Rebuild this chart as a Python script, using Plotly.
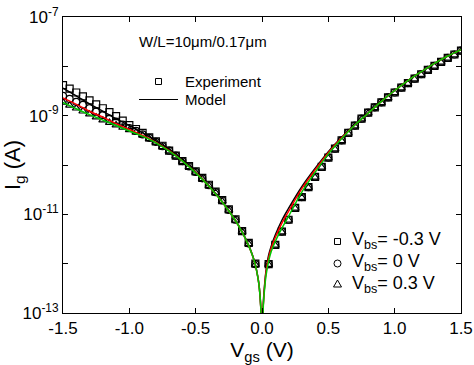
import plotly.graph_objects as go

# Gate voltage grid of measured points (V)
vgs_exp = [-1.5, -1.45, -1.4, -1.35, -1.3, -1.25, -1.2, -1.15, -1.1, -1.05,
           -1.0, -0.95, -0.9, -0.85, -0.8, -0.75, -0.7, -0.65, -0.6, -0.55,
           -0.5, -0.45, -0.4, -0.35, -0.3, -0.25, -0.2, -0.15, -0.1, -0.05,
           0.05, 0.1, 0.15, 0.2, 0.25, 0.3, 0.35, 0.4, 0.45, 0.5,
           0.55, 0.6, 0.65, 0.7, 0.75, 0.8, 0.85, 0.9, 0.95, 1.0,
           1.05, 1.1, 1.15, 1.2, 1.25, 1.3, 1.35, 1.4, 1.45, 1.5]

# log10(Ig [A]) experiment, Vbs = -0.3 V (squares)
log_ig_m03 = [-8.38, -8.45, -8.53, -8.61, -8.69, -8.77, -8.85, -8.93, -9.01, -9.10,
              -9.19, -9.27, -9.35, -9.44, -9.52, -9.61, -9.71, -9.81, -9.92, -10.02,
              -10.13, -10.26, -10.40, -10.54, -10.71, -10.90, -11.10, -11.34, -11.58, -12.00,
              -12.01, -11.62, -11.35, -11.11, -10.87, -10.65, -10.45, -10.24, -10.04, -9.85,
              -9.67, -9.50, -9.35, -9.20, -9.06, -8.94, -8.83, -8.73, -8.63, -8.53,
              -8.43, -8.34, -8.25, -8.16, -8.07, -7.99, -7.91, -7.83, -7.76, -7.68]
# Vbs = 0 V (circles)
log_ig_0 = [-8.60, -8.66, -8.72, -8.78, -8.85, -8.92, -8.99, -9.06, -9.12, -9.18,
            -9.25, -9.31, -9.38, -9.45, -9.53, -9.62, -9.71, -9.81, -9.92, -10.03,
            -10.14, -10.27, -10.41, -10.55, -10.72, -10.91, -11.11, -11.34, -11.59, -12.01,
            -12.01, -11.62, -11.35, -11.11, -10.87, -10.65, -10.45, -10.24, -10.04, -9.85,
            -9.67, -9.50, -9.35, -9.20, -9.06, -8.94, -8.83, -8.73, -8.63, -8.53,
            -8.43, -8.34, -8.25, -8.16, -8.07, -7.99, -7.91, -7.83, -7.76, -7.68]
# Vbs = 0.3 V (triangles)
log_ig_p03 = [-8.73, -8.79, -8.85, -8.91, -8.97, -9.03, -9.09, -9.14, -9.19, -9.24,
              -9.29, -9.34, -9.40, -9.47, -9.54, -9.63, -9.72, -9.82, -9.93, -10.04,
              -10.15, -10.28, -10.42, -10.56, -10.73, -10.92, -11.12, -11.35, -11.60, -12.02,
              -12.02, -11.63, -11.36, -11.12, -10.88, -10.66, -10.46, -10.25, -10.05, -9.86,
              -9.68, -9.51, -9.36, -9.21, -9.07, -8.95, -8.84, -8.74, -8.64, -8.54,
              -8.44, -8.35, -8.26, -8.17, -8.08, -8.00, -7.92, -7.84, -7.77, -7.69]

# Model curves
vgs_model = [-1.5, -1.4, -1.3, -1.2, -1.1, -1.0, -0.9, -0.8, -0.7, -0.6,
             -0.5, -0.4, -0.3, -0.2, -0.15, -0.1, -0.07, -0.05, -0.03, -0.02,
             -0.01, 0.0, 0.01, 0.02, 0.03, 0.05, 0.07, 0.1, 0.15, 0.2,
             0.3, 0.4, 0.5, 0.6, 0.7, 0.8, 0.9, 1.0, 1.1, 1.2,
             1.3, 1.4, 1.5]
log_model_m03 = [-8.44, -8.60, -8.76, -8.91, -9.06, -9.20, -9.35, -9.51, -9.69, -9.90,
                 -10.14, -10.42, -10.74, -11.12, -11.35, -11.63, -11.84, -12.02, -12.29, -12.49,
                 -12.84, -14.0, -12.80, -12.42, -12.15, -11.83, -11.64, -11.42, -11.12, -10.88,
                 -10.44, -10.07, -9.73, -9.44, -9.18, -8.94, -8.71, -8.49, -8.29, -8.11,
                 -7.94, -7.79, -7.66]
log_model_0 = [-8.64, -8.77, -8.91, -9.03, -9.16, -9.28, -9.40, -9.54, -9.71, -9.92,
               -10.15, -10.43, -10.75, -11.13, -11.36, -11.64, -11.85, -12.03, -12.30, -12.50,
               -12.85, -14.0, -12.82, -12.45, -12.18, -11.88, -11.68, -11.47, -11.18, -10.94,
               -10.48, -10.10, -9.75, -9.45, -9.19, -8.95, -8.71, -8.49, -8.29, -8.11,
               -7.94, -7.79, -7.66]
log_model_p03 = [-8.73, -8.86, -8.98, -9.09, -9.20, -9.31, -9.42, -9.55, -9.72, -9.92,
                 -10.16, -10.43, -10.75, -11.13, -11.36, -11.64, -11.85, -12.03, -12.30, -12.50,
                 -12.85, -14.0, -12.85, -12.50, -12.25, -11.95, -11.75, -11.55, -11.28, -11.04,
                 -10.55, -10.15, -9.78, -9.47, -9.19, -8.95, -8.71, -8.49, -8.29, -8.11,
                 -7.94, -7.79, -7.66]

FONT = "Liberation Sans, Arial, sans-serif"

fig = go.Figure()

for logs, sym in [(log_ig_m03, "square-open"), (log_ig_0, "circle-open"), (log_ig_p03, "triangle-up-open")]:
    fig.add_trace(go.Scatter(
        x=vgs_exp, y=[10 ** v for v in logs], mode="markers",
        marker=dict(symbol=sym, size=7, color="black", line=dict(width=1.2, color="black")),
        showlegend=False, cliponaxis=True))

for logs, col in [(log_model_m03, "black"), (log_model_0, "#FF0000"), (log_model_p03, "#00C800")]:
    fig.add_trace(go.Scatter(
        x=vgs_model, y=[10 ** v for v in logs], mode="lines", line_shape="spline",
        line=dict(color=col, width=1.5), showlegend=False))

ytick_vals = [1e-13, 1e-12, 1e-11, 1e-10, 1e-9, 1e-8, 1e-7]
ytick_text = ["10<sup>-13</sup>", "", "10<sup>-11</sup>", "", "10<sup>-9</sup>", "", "10<sup>-7</sup>"]
xtick_vals = [-1.5, -1.0, -0.5, 0.0, 0.5, 1.0, 1.5]
xtick_text = ["-1.5", "-1.0", "-0.5", "0.0", "0.5", "1.0", "1.5"]

fig.update_layout(
    width=474, height=365,
    margin=dict(l=63, r=13, t=17, b=52),
    paper_bgcolor="white", plot_bgcolor="white",
    font=dict(family=FONT, size=17, color="black"),
    xaxis=dict(range=[-1.5, 1.5], tickvals=xtick_vals, ticktext=xtick_text, automargin=False,
               ticks="inside", ticklen=5, tickcolor="black", mirror="ticks",
               showline=True, linecolor="black", linewidth=1, showgrid=False, zeroline=False,
               title=dict(text="V<sub>gs</sub> (V)", font=dict(size=21), standoff=4),
               tickfont=dict(size=17)),
    yaxis=dict(type="log", range=[-13, -7], tickvals=ytick_vals, ticktext=ytick_text, automargin=False,
               ticks="inside", ticklen=5, tickcolor="black", mirror="ticks",
               showline=True, linecolor="black", linewidth=1, showgrid=False, zeroline=False,
               title=dict(text="I<sub>g</sub> (A)", font=dict(size=22), standoff=1),
               tickfont=dict(size=17)),
)

def px(x):
    return (x - 63) / 398.0

def py(y):
    return (313 - y) / 296.0

annots = [
    ("W/L=10\u03bcm/0.17\u03bcm", 137, 42, 15),
    ("Experiment", 183, 81, 15),
    ("Model", 183, 100, 15),
    ("V<sub>bs</sub>= -0.3 V", 350, 240, 18),
    ("V<sub>bs</sub>= 0 V", 350, 262, 18),
    ("V<sub>bs</sub>= 0.3 V", 350, 284, 18),
]
for txt, x, y, s in annots:
    fig.add_annotation(text=txt, xref="paper", yref="paper", x=px(x), y=py(y),
                       xanchor="left", yanchor="middle", showarrow=False,
                       font=dict(family=FONT, size=s, color="black"))

shapes = []
# legend symbols
for (cx, cy) in [(158.5, 81.5), (337.5, 241.5)]:
    shapes.append(dict(type="rect", xref="paper", yref="paper", xsizemode="pixel", ysizemode="pixel",
                       xanchor=px(cx), yanchor=py(cy), x0=-3, x1=3, y0=-3, y1=3,
                       line=dict(color="black", width=1)))
shapes.append(dict(type="circle", xref="paper", yref="paper", xsizemode="pixel", ysizemode="pixel",
                   xanchor=px(337.5), yanchor=py(263.5), x0=-3.5, x1=3.5, y0=-3.5, y1=3.5,
                   line=dict(color="black", width=1)))
shapes.append(dict(type="path", xref="paper", yref="paper", xsizemode="pixel", ysizemode="pixel",
                   xanchor=px(337.5), yanchor=py(284), path="M -4,-3 L 4,-3 L 0,4 Z",
                   line=dict(color="black", width=1)))
shapes.append(dict(type="line", xref="paper", yref="paper", x0=px(139), x1=px(178),
                   y0=py(99.5), y1=py(99.5), line=dict(color="black", width=1)))
fig.update_layout(shapes=shapes)

fig.write_html("out.html")
